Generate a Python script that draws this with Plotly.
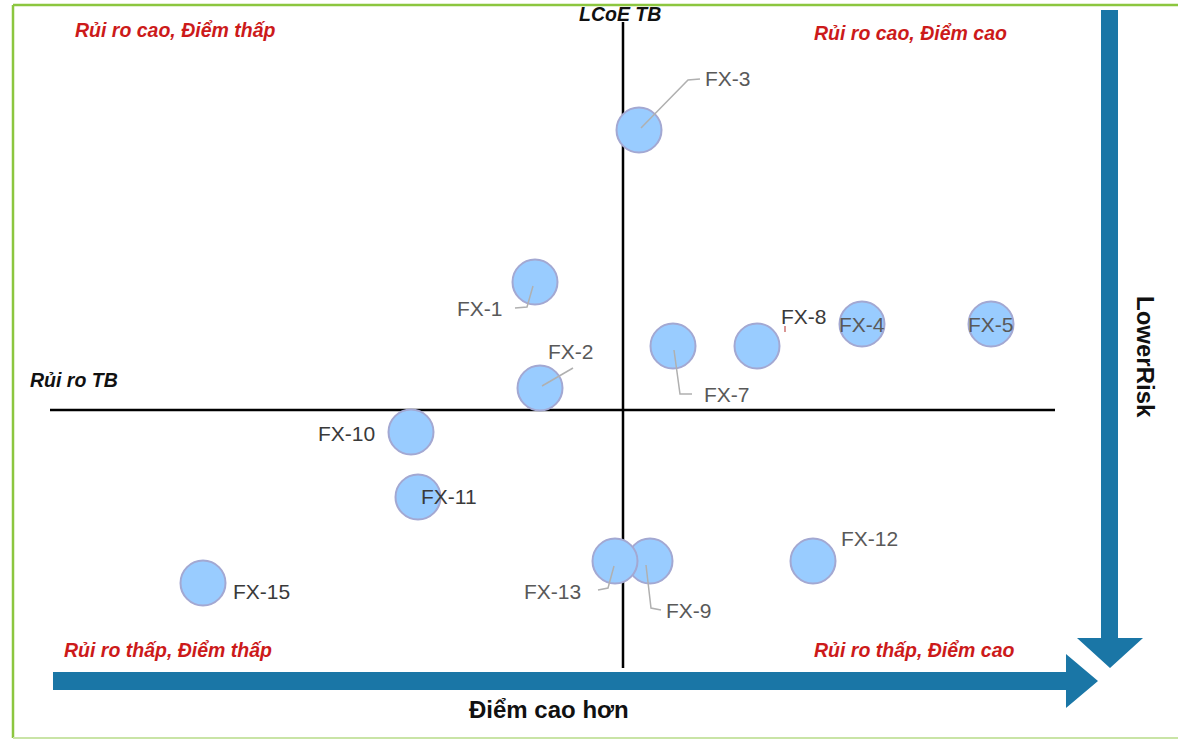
import plotly.graph_objects as go

# ---- data: option scores vs. risk, relative to the averages (LCoE TB / Rủi ro TB) ----
options = ["FX-1", "FX-2", "FX-3", "FX-4", "FX-5", "FX-7", "FX-8",
           "FX-9", "FX-10", "FX-11", "FX-12", "FX-13", "FX-15"]
score = [-8.8, -8.3, 1.6, 23.9, 36.8, 5.0, 13.4,
         2.7, -21.2, -20.5, 19.0, -0.8, -42.0]
risk = [12.8, 2.2, 28.0, 8.6, 8.6, 6.4, 6.4,
        -15.1, -2.2, -8.7, -15.1, -15.1, -17.3]

quadrant_text = ["Rủi ro cao, Điểm thấp", "Rủi ro cao, Điểm cao",
                 "Rủi ro thấp, Điểm thấp", "Rủi ro thấp, Điểm cao"]

W, H = 1178, 741
X_RANGE = [-62.3, 55.5]
Y_RANGE = [-33.1, 41.0]
PX_X = W / (X_RANGE[1] - X_RANGE[0])   # pixels per x unit
PX_Y = H / (Y_RANGE[1] - Y_RANGE[0])   # pixels per y unit


def px(xp, yp):
    """Pixel position -> paper coordinates (figure has no margins)."""
    return xp / W, 1 - yp / H


# label placement: (xshift, yshift, xanchor) in pixels from the bubble centre
label_pos = {
    "FX-1": (-30, -26, "right"), "FX-2": (6, 37, "left"), "FX-3": (64, 52, "left"),
    "FX-4": (0, 0, "center"), "FX-5": (0, 0, "center"), "FX-7": (29, -48, "left"),
    "FX-8": (22, 30, "left"), "FX-9": (14, -49, "left"), "FX-10": (-34, -1, "right"),
    "FX-11": (1, 1, "left"), "FX-12": (26, 23, "left"), "FX-13": (-32, -30, "right"),
    "FX-15": (28, -8, "left"),
}
dark_labels = {"FX-10", "FX-11", "FX-15", "FX-8"}

# leader lines: pixel offsets from the bubble centre (y downwards)
leaders = {
    "FX-3": [(2, -2), (49, -50), (61, -51)],
    "FX-1": [(-2, 4), (-8, 25), (-20, 26)],
    "FX-2": [(2, -2), (33, -20)],
    "FX-7": [(1, 4), (7, 48), (19, 48)],
    "FX-13": [(-1, 5), (-7, 27), (-17, 29)],
    "FX-9": [(-4, 4), (1, 47), (11, 49)],
}

fig = go.Figure()

# bubbles
fig.add_trace(go.Scatter(
    x=score, y=risk, mode="markers", text=options, hoverinfo="text",
    marker=dict(size=45, color="#99CCFF",
                line=dict(color="#A3A8D2", width=2)),
    showlegend=False,
))

# leader lines
for name, pts in leaders.items():
    i = options.index(name)
    fig.add_trace(go.Scatter(
        x=[score[i] + dx / PX_X for dx, dy in pts],
        y=[risk[i] - dy / PX_Y for dx, dy in pts],
        mode="lines", line=dict(color="#B0B0B0", width=1.5),
        hoverinfo="skip", showlegend=False,
    ))

# small tick next to FX-8
i8 = options.index("FX-8")
fig.add_trace(go.Scatter(
    x=[score[i8] + 28 / PX_X] * 2,
    y=[risk[i8] + 20 / PX_Y, risk[i8] + 14 / PX_Y],
    mode="lines", line=dict(color="#C0504D", width=1.2),
    hoverinfo="skip", showlegend=False,
))

annotations = []
for name, xv, yv in zip(options, score, risk):
    xs, ys, anchor = label_pos[name]
    annotations.append(dict(
        x=xv, y=yv, xref="x", yref="y", text=name, showarrow=False,
        xshift=xs, yshift=ys, xanchor=anchor, yanchor="middle",
        font=dict(family="Liberation Sans, Arial", size=21,
                  color="#3A3A3A" if name in dark_labels else "#595959"),
    ))

# quadrant captions
red_font = dict(family="Liberation Sans, Arial", size=19.5, color="#CC1A1A")
for txt, (xp, yp) in zip(quadrant_text, [(73, 30), (812, 33), (62, 650), (812, 650)]):
    xa, ya = px(xp, yp)
    annotations.append(dict(x=xa, y=ya, xref="paper", yref="paper",
                            text=f"<b><i>{txt}</i></b>", showarrow=False,
                            xanchor="left", yanchor="middle", font=red_font))

black_it = dict(family="Liberation Sans, Arial", size=19.5, color="#111111")
xa, ya = px(620, 14)
annotations.append(dict(x=xa, y=ya, xref="paper", yref="paper", text="<b><i>LCoE TB</i></b>",
                        showarrow=False, xanchor="center", yanchor="middle", font=black_it))
xa, ya = px(28, 380)
annotations.append(dict(x=xa, y=ya, xref="paper", yref="paper", text="<b><i>Rủi ro TB</i></b>",
                        showarrow=False, xanchor="left", yanchor="middle", font=black_it))
xa, ya = px(549, 709)
annotations.append(dict(x=xa, y=ya, xref="paper", yref="paper", text="<b>Điểm cao hơn</b>",
                        showarrow=False, xanchor="center", yanchor="middle",
                        font=dict(family="Liberation Sans, Arial", size=24, color="#111111")))
xa, ya = px(1146, 357)
annotations.append(dict(x=xa, y=ya, xref="paper", yref="paper", text="<b>LowerRisk</b>",
                        showarrow=False, xanchor="center", yanchor="middle", textangle=90,
                        font=dict(family="Liberation Sans, Arial", size=24, color="#111111")))

ARROW = "#1A76A6"


def path(points):
    pts = [px(*p) for p in points]
    return "M " + " L ".join(f"{a:.5f},{b:.5f}" for a, b in pts) + " Z"


shapes = [
    # frame
    dict(type="line", xref="paper", yref="paper", x0=px(13, 5)[0], y0=px(13, 5)[1],
         x1=px(1178, 5)[0], y1=px(1178, 5)[1], line=dict(color="#8CC63F", width=2.5)),
    dict(type="line", xref="paper", yref="paper", x0=px(13, 5)[0], y0=px(13, 5)[1],
         x1=px(13, 738)[0], y1=px(13, 738)[1], line=dict(color="#8CC63F", width=2.5)),
    dict(type="line", xref="paper", yref="paper", x0=px(13, 738)[0], y0=px(13, 738)[1],
         x1=px(1178, 738)[0], y1=px(1178, 738)[1], line=dict(color="#C9E4A6", width=2)),
    # average lines
    dict(type="line", xref="x", yref="y", x0=0, x1=0, y0=38.8, y1=-25.8,
         line=dict(color="#000000", width=2.5), layer="below"),
    dict(type="line", xref="x", yref="y", x0=-57.3, x1=43.2, y0=0, y1=0,
         line=dict(color="#000000", width=2.5), layer="below"),
    # arrows
    dict(type="path", xref="paper", yref="paper", fillcolor=ARROW, line=dict(width=0),
         path=path([(53, 672), (1066, 672), (1066, 654), (1098, 681),
                    (1066, 708), (1066, 690), (53, 690)])),
    dict(type="path", xref="paper", yref="paper", fillcolor=ARROW, line=dict(width=0),
         path=path([(1101, 10), (1118, 10), (1118, 638), (1143, 638),
                    (1110, 668), (1077, 638), (1101, 638)])),
]

fig.update_layout(
    width=W, height=H, margin=dict(l=0, r=0, t=0, b=0),
    paper_bgcolor="white", plot_bgcolor="white",
    xaxis=dict(range=X_RANGE, visible=False, fixedrange=True),
    yaxis=dict(range=Y_RANGE, visible=False, fixedrange=True),
    shapes=shapes, annotations=annotations,
)

fig.write_html("out.html")
